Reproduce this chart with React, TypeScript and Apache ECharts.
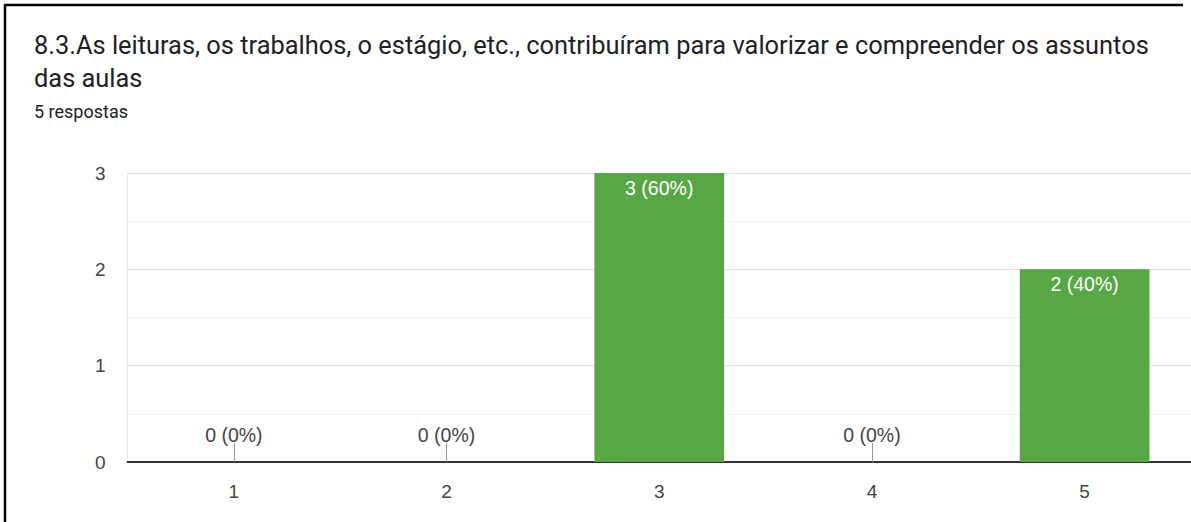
import React, { useEffect, useRef } from "react";
import * as echarts from "echarts";

const titleLines = [
  "8.3.As leituras, os trabalhos, o estágio, etc., contribuíram para valorizar e compreender os assuntos",
  "das aulas",
];
const subtitle = "5 respostas";
const categories = ["1", "2", "3", "4", "5"];
const counts = [0, 0, 3, 0, 2];
const percents = [0, 0, 60, 0, 40];
const yTicks = [0, 1, 2, 3];

const FONT = "Roboto, Arial, sans-serif";
const LABEL_FONT = "'Liberation Sans', Arial, sans-serif";

export default function App() {
  const ref = useRef<HTMLDivElement>(null);
  useEffect(() => {
    if (!ref.current) return;
    const chart = echarts.init(ref.current, undefined, { renderer: "svg" });
    const data = counts.map((v, i) => {
      const text = `${v} (${percents[i]}%)`;
      if (v === 0) {
        return {
          value: v,
          label: {
            show: true,
            position: "top",
            distance: 17,
            color: "#444",
            fontSize: 19.5,
            fontFamily: LABEL_FONT,
            formatter: text,
          },
        };
      }
      return {
        value: v,
        label: {
          show: true,
          position: "insideTop",
          distance: 5,
          color: "#ffffff",
          fontSize: 19.5,
          fontFamily: LABEL_FONT,
          formatter: text,
        },
      };
    });
    chart.setOption({
      animation: false,
      backgroundColor: "#ffffff",
      title: {
        text: titleLines.join("\n"),
        subtext: subtitle,
        left: 34,
        top: 28.5,
        padding: 0,
        itemGap: 7,
        textStyle: {
          fontFamily: FONT,
          fontSize: 25.4,
          fontWeight: "normal",
          color: "#202124",
          lineHeight: 33,
        },
        subtextStyle: {
          fontFamily: FONT,
          fontSize: 18,
          color: "#202124",
          lineHeight: 20,
        },
      },
      graphic: [
        { type: "line", shape: { x1: 4, y1: 5, x2: 1183, y2: 5 }, style: { stroke: "#000", lineWidth: 2.5 } },
        { type: "line", shape: { x1: 5, y1: 4, x2: 5, y2: 522 }, style: { stroke: "#000", lineWidth: 2.5 } },
      ],
      grid: { left: 127.5, right: -4, top: 173, bottom: 60, containLabel: false },
      xAxis: {
        type: "category",
        data: categories,
        axisLine: { show: true, lineStyle: { color: "#333", width: 2 } },
        axisTick: { show: true, inside: true, alignWithLabel: true, length: 19, lineStyle: { color: "#999", width: 1 } },
        axisLabel: { color: "#444", fontSize: 19, fontFamily: LABEL_FONT, margin: 20 },
        splitLine: { show: false },
      },
      yAxis: {
        type: "value",
        min: yTicks[0],
        max: yTicks[yTicks.length - 1],
        interval: 1,
        axisLine: { show: true, lineStyle: { color: "#e6e6e6", width: 1 } },
        axisTick: { show: false },
        axisLabel: { color: "#444", fontSize: 19, fontFamily: LABEL_FONT, margin: 22 },
        splitLine: { show: true, lineStyle: { color: "#e3e3e3", width: 1 } },
        minorTick: { show: false, splitNumber: 2 },
        minorSplitLine: { show: true, lineStyle: { color: "#f2f2f2", width: 1 } },
      },
      series: [
        {
          type: "bar",
          data,
          barWidth: "61%",
          itemStyle: { color: "#57a845" },
        },
      ],
    });
    return () => chart.dispose();
  }, []);
  return (
    <div
      ref={ref}
      style={{ position: "fixed", left: 0, top: 0, width: 1191, height: 522, background: "#fff" }}
    />
  );
}
